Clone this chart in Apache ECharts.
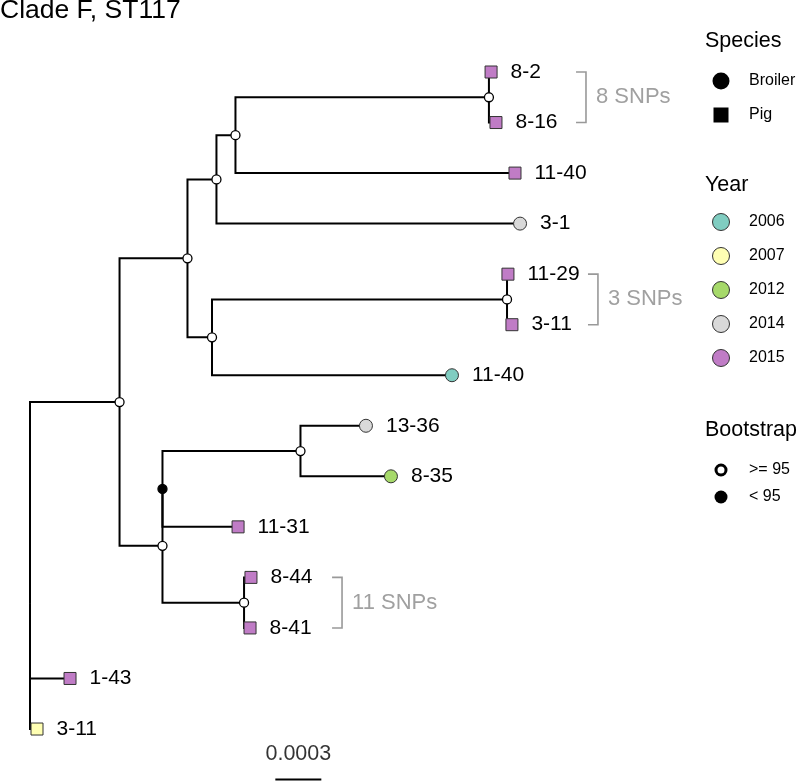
<!DOCTYPE html>
<html><head><meta charset="utf-8">
<script src="https://cdn.jsdelivr.net/npm/echarts@6/dist/echarts.min.js"></script>
<style>html,body{margin:0;padding:0;background:#fff}#c{width:800px;height:782px}</style>
</head><body><div id="c"></div>
<script>
// ---- Data ----
const titleText = "Clade F, ST117";
const leafNames   = ["8-2","8-16","11-40","3-1","11-29","3-11","11-40","13-36","8-35","11-31","8-44","8-41","1-43","3-11"];
const leafDist    = [0.003007,0.003039,0.003163,0.003196,0.003117,0.003143,0.002752,0.002191,0.002354,0.001357,0.001441,0.001435,0.000261,0.0000457];
const leafSpecies = ["Pig","Pig","Pig","Broiler","Pig","Pig","Broiler","Broiler","Broiler","Pig","Pig","Pig","Pig","Pig"];
const leafYear    = ["2015","2015","2015","2014","2015","2015","2006","2014","2012","2015","2015","2015","2015","2007"];

const nodeIds      = ["root","A","B","D","F","G","E","H","C","I","K","J"];
const nodeDist     = [0, 0.000584, 0.001027, 0.001216, 0.00134, 0.002993, 0.001187, 0.003111, 0.000864, 0.000864, 0.001764, 0.001396];
const nodeChildren = [["A","L12","L13"],["B","C"],["D","E"],["F","L3"],["G","L2"],["L0","L1"],["H","L6"],["L4","L5"],["I","J"],["K","L9"],["L7","L8"],["L10","L11"]];
const nodeSupport  = [null,">= 95",">= 95",">= 95",">= 95",">= 95",">= 95",">= 95",">= 95","< 95",">= 95",">= 95"];

const speciesLabels   = ["Broiler","Pig"];
const yearLabels      = ["2006","2007","2012","2014","2015"];
const yearColors      = ["#80CDC1","#FFFFB3","#A6D96A","#D9D9D9","#C07CC6"];
const bootstrapLabels = [">= 95","< 95"];

const bracketFrom   = [0, 4, 10];
const bracketTo     = [1, 5, 11];
const bracketDist   = [0.003626, 0.003704, 0.002035];
const bracketLabels = ["8 SNPs","3 SNPs","11 SNPs"];

const scaleStart = 0.0016, scaleLength = 0.0003, scaleLabel = "0.0003";

// ---- Build tree geometry ----
const FONT = "Liberation Sans, Arial, Helvetica, sans-serif";
const pos = {};
leafNames.forEach((n,i)=>{ pos["L"+i] = {x: leafDist[i], y: i}; });
function getPos(id){
  if (pos[id]) return pos[id];
  const k = nodeIds.indexOf(id);
  const ys = nodeChildren[k].map(c=>getPos(c).y);
  pos[id] = {x: nodeDist[k], y: ys.reduce((a,b)=>a+b,0)/ys.length};
  return pos[id];
}
nodeIds.forEach(getPos);

const edges = [];
nodeIds.forEach((id,k)=>{
  const p = pos[id];
  nodeChildren[k].forEach(c=>{
    const q = pos[c];
    edges.push({coords: [[p.x,p.y],[p.x,q.y],[q.x,q.y]]});
  });
});

const nodePts = [];
nodeIds.forEach((id,k)=>{
  if (!nodeSupport[k]) return;
  const p = pos[id];
  nodePts.push({value:[p.x,p.y], itemStyle:{color: nodeSupport[k]===">= 95" ? "#fff" : "#000"}});
});

const leafPts = leafNames.map((n,i)=>({
  value:[leafDist[i], i],
  name: n,
  symbol: leafSpecies[i]==="Pig" ? "rect" : "circle",
  symbolSize: leafSpecies[i]==="Pig" ? 12 : 13,
  itemStyle:{color: yearColors[yearLabels.indexOf(leafYear[i])]}
}));

const tick = 0.000065;
const bracketLines = bracketFrom.map((f,i)=>({coords:[[bracketDist[i]-tick,f],[bracketDist[i],f],[bracketDist[i],bracketTo[i]],[bracketDist[i]-tick,bracketTo[i]]]}));
const bracketText = bracketFrom.map((f,i)=>({value:[bracketDist[i],(f+bracketTo[i])/2], name: bracketLabels[i]}));

// ---- Legend graphics ----
const LX = 705, SX = 721, TX = 749;
const g = [];
function title(t,y){ g.push({type:'text', x:LX, y:y, style:{text:t, font:'21.5px '+FONT, fill:'#000', verticalAlign:'middle', textVerticalAlign:'middle'}}); }
function lab(t,y){ g.push({type:'text', x:TX, y:y, style:{text:t, font:'16px '+FONT, fill:'#000', verticalAlign:'middle', textVerticalAlign:'middle'}}); }
title("Species", 41);
[81,115].forEach((y,i)=>{
  if (speciesLabels[i]==="Broiler") g.push({type:'circle', shape:{cx:SX,cy:y,r:8.5}, style:{fill:'#000'}});
  else g.push({type:'rect', shape:{x:SX-7.5,y:y-7.5,width:15,height:15}, style:{fill:'#000'}});
  lab(speciesLabels[i], y);
});
title("Year", 185);
[222,256,290,324,358].forEach((y,i)=>{
  g.push({type:'circle', shape:{cx:SX,cy:y,r:8.5}, style:{fill:yearColors[i], stroke:'#333', lineWidth:1}});
  lab(yearLabels[i], y);
});
title("Bootstrap", 430);
[470,497].forEach((y,i)=>{
  if (i===0) g.push({type:'circle', shape:{cx:SX,cy:y,r:5}, style:{fill:'#fff', stroke:'#000', lineWidth:3}});
  else g.push({type:'circle', shape:{cx:SX,cy:y,r:6.5}, style:{fill:'#000'}});
  lab(bootstrapLabels[i], y);
});
g.push({type:'text', x:0, y:11, style:{text:titleText, font:'26.5px '+FONT, fill:'#000', verticalAlign:'middle', textVerticalAlign:'middle'}});

const chart = echarts.init(document.getElementById('c'), null, {renderer:'canvas'});
chart.setOption({
  animation:false,
  backgroundColor:'#fff',
  grid:{left:30, top:21.46, width:690, height:758.1},
  xAxis:{type:'value', min:0, max:0.0045, show:false},
  yAxis:{type:'value', min:-1, max:14, inverse:true, show:false},
  graphic: g,
  series:[
    {type:'lines', coordinateSystem:'cartesian2d', polyline:true, silent:true, clip:false, z:1,
     lineStyle:{color:'#000', width:2, opacity:1}, data: edges},
    {type:'lines', coordinateSystem:'cartesian2d', polyline:true, silent:true, clip:false, z:1,
     lineStyle:{color:'#999', width:1.6, opacity:1}, data: bracketLines},
    {type:'lines', coordinateSystem:'cartesian2d', polyline:true, silent:true, clip:false, z:1,
     lineStyle:{color:'#000', width:2, opacity:1}, data:[{coords:[[scaleStart,14],[scaleStart+scaleLength,14]]}]},
    {type:'scatter', silent:true, z:3, symbol:'circle', symbolSize:9,
     itemStyle:{borderColor:'#000', borderWidth:1.3, opacity:1}, data: nodePts},
    {type:'scatter', silent:true, z:4,
     itemStyle:{borderColor:'#333', borderWidth:1, opacity:1},
     label:{show:true, position:'right', distance:13, formatter:p=>p.name, fontSize:21, fontFamily:FONT, color:'#000'},
     data: leafPts},
    {type:'scatter', silent:true, z:4, symbolSize:0,
     label:{show:true, position:'right', distance:10, formatter:p=>p.name, fontSize:22, fontFamily:FONT, color:'#888'},
     data: bracketText},
    {type:'scatter', silent:true, z:4, symbolSize:0,
     label:{show:true, position:'inside', formatter:()=>scaleLabel, fontSize:21.5, fontFamily:FONT, color:'#000'},
     data:[{value:[scaleStart+scaleLength/2, 13.5]}]}
  ]
});
</script></body></html>
